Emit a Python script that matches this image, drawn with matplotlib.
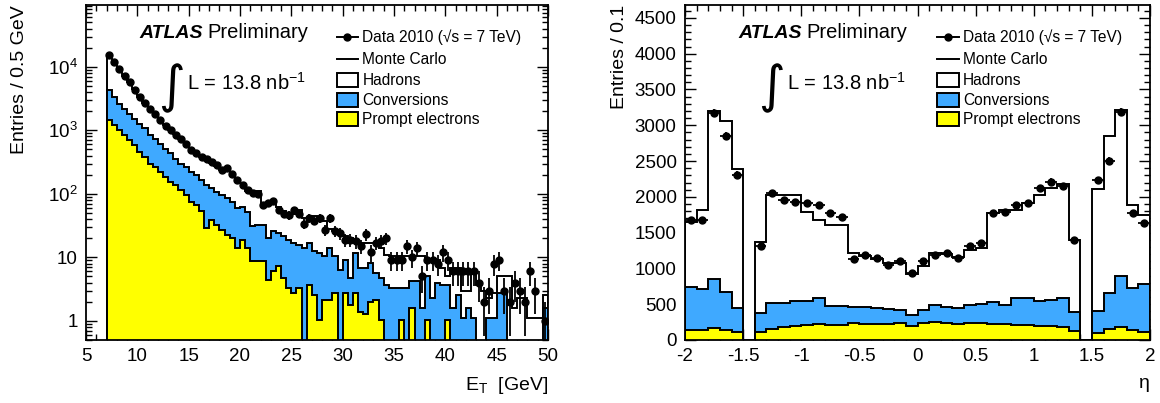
#!/usr/bin/env python
"""Electron candidate E_T and eta distributions: data vs stacked MC (ATLAS-style)."""
import numpy as np
import matplotlib
matplotlib.use("Agg")
import matplotlib.pyplot as plt
from matplotlib.patches import Rectangle
from matplotlib.lines import Line2D
from matplotlib.ticker import MultipleLocator, FixedLocator, FixedFormatter, LogLocator, NullFormatter

plt.rcParams['font.family'] = ['Liberation Sans', 'DejaVu Sans']
plt.rcParams['mathtext.fontset'] = 'custom'
plt.rcParams['mathtext.rm'] = 'Liberation Sans'
plt.rcParams['mathtext.it'] = 'Liberation Sans:italic'
plt.rcParams['mathtext.bf'] = 'Liberation Sans:bold'
plt.rcParams['axes.unicode_minus'] = False

BLUE = '#3fa9ff'
YELLOW = '#ffff00'

# ---- E_T: 0.5 GeV bins, 7..50 GeV
ET_LO, ET_W = 7.0, 0.5
et_data = [15400, 11980, 9300, 7230, 5820, 4360, 3380, 2720, 2190, 1830,
           1475, 1190, 1027, 857, 743, 620, 499, 432, 387, 348,
           312, 280, 234, 251, 202, 163, 138, 114, 102, 101,
           67, 71, 76, 56, 49, 46, 55, 49, 34, 41,
           38, 41, 27, 41, 26, 24, 19, 19, 18, 15,
           23, 12, 17, 18, 20, 9, 9, 9, 15, 10,
           14, 5, 9, 9, 8, 12, 9, 6, 6, 6,
           6, 6, 4, 2, 3, 8, 9, 3, 2, 4,
           3, 2, 6, 3, 0, 1]
# stack levels: hadrons+conversions+prompt, conversions+prompt, prompt
et_mc_total = [15000, 11800, 9200, 7200, 5800, 4400, 3400, 2700, 2200, 1820,
               1480, 1200, 1030, 860, 740, 620, 505, 435, 385, 345,
               310, 275, 240, 235, 200, 160, 146, 109, 109, 109,
               71, 71, 79, 63, 53, 49, 49, 55, 41, 38,
               45, 38, 38, 28, 26, 24, 22, 20, 18, 17,
               17, 17, 17, 14, 11, 10.5, 10.5, 10.5, 10.5, 10.5,
               10.5, 10.5, 9, 9, 9, 6.8, 5, 6.8, 6.8, 3,
               3, 5.5, 3.7, 3, 2.3, 2.7, 5, 5, 5, 1.6,
               2.3, 2.3, 1.1, 1.1, 1.1, 2.6]
et_conv_stack = [4250, 3350, 2630, 2190, 1830, 1530, 1280, 1070, 835, 740,
                 620, 515, 432, 360, 300, 267, 223, 197, 165, 138,
                 122, 108, 96, 85, 75, 59, 61, 52, 31, 32,
                 32, 20, 26, 24, 21.6, 18.6, 16.7, 15.5, 14, 16.7,
                 12.5, 11.7, 10.5, 14, 10.5, 6.4, 9.2, 4.7, 11.7, 6.8,
                 6.8, 8.1, 5.6, 4.7, 3.7, 3.3, 3.3, 3.3, 3.3, 4.2,
                 4.2, 1.6, 5, 2.3, 4, 3.7, 3.7, 1.6, 2.6, 1.1,
                 1.6, 1.1, 0, 0, 1.1, 1.1, 2.7, 2.7, 0, 0,
                 0, 0, 0, 0, 0, 1.6]
et_prompt = [1440, 1200, 1000, 835, 695, 583, 457, 381, 300, 267,
             223, 186, 155, 138, 115, 96, 75, 66, 53, 29,
             39, 32, 27, 22.6, 20, 14, 18.7, 14, 8.7, 8.7,
             8.7, 4.4, 6.1, 7.3, 4.7, 3.3, 2.7, 3.3, 0, 3.7,
             2.6, 1.04, 2.1, 2.1, 2.7, 0, 2.7, 1.8, 2.7, 1.4,
             1.3, 2.0, 2.1, 1.04, 0, 0, 0, 1.04, 0, 1.6,
             0, 0, 1.04, 0, 0, 0, 1.04, 0, 0, 0,
             0, 0, 0, 0, 0, 0, 0, 0, 0, 0,
             0, 0, 0, 0, 0, 0]

# ---- eta: 0.1 bins, -2..2 (crack bins empty)
ETA_LO, ETA_W = -2.0, 0.1
eta_data = [1676, 1676, 3167, 2854, 2309, 0, 1318, 2049, 1956, 1932,
            1909, 1886, 1770, 1714, 1132, 1188, 1141, 1048, 1104, 941,
            1104, 1188, 1220, 1150, 1318, 1351, 1770, 1793, 1886, 1918,
            2119, 2212, 2151, 1397, 0, 2235, 2500, 3190, 1779, 1630]
eta_mc_total = [1650, 1816, 3199, 3064, 2384, 0, 1365, 2026, 2026, 2026,
                1793, 1676, 1607, 1607, 1211, 1173, 1130, 1080, 1080, 918,
                1034, 1220, 1200, 1164, 1257, 1281, 1770, 1816, 1816, 1909,
                2026, 2119, 2179, 1397, 0, 2105, 2850, 3213, 1886, 1746]
eta_conv_stack = [736, 708, 857, 675, 442, 0, 373, 513, 514, 541,
                  545, 582, 479, 480, 465, 457, 442, 433, 419, 349,
                  419, 489, 465, 442, 489, 503, 527, 489, 591, 582,
                  545, 555, 591, 396, 0, 405, 652, 894, 722, 782]
eta_prompt = [140, 140, 163, 140, 116, 0, 116, 154, 186, 200,
              210, 224, 205, 205, 233, 224, 224, 224, 233, 196,
              233, 247, 233, 224, 240, 233, 224, 220, 210, 210,
              200, 200, 186, 130, 0, 102, 149, 177, 140, 116]

legend_labels = ["Data 2010 (√s = 7 TeV)", "Monte Carlo", "Hadrons",
                 "Conversions", "Prompt electrons"]


def draw_stack(ax, lo, w, total, conv, prompt, floor):
    edges = lo + w * np.arange(len(total) + 1)
    for vals, fc in ((total, 'white'), (conv, BLUE), (prompt, YELLOW)):
        v = np.asarray(vals, float)
        v = np.where(v > 0, v, floor)
        ax.stairs(v, edges, baseline=floor, fill=True, facecolor=fc,
                  edgecolor='black', linewidth=1.4, zorder=2)


def draw_data(ax, lo, w, data):
    d = np.asarray(data, float)
    c = lo + w * (np.arange(len(d)) + 0.5)
    m = d > 0
    err = np.sqrt(d[m])
    low = np.minimum(err, d[m] - 1e-3)
    ax.errorbar(c[m], d[m], yerr=[low, err], xerr=w / 2, fmt='o', color='black',
                ms=5, elinewidth=1.3, capsize=0, zorder=5)


def decorate(ax):
    for s in ax.spines.values():
        s.set_linewidth(1.3)
    ax.tick_params(which='both', direction='in', top=True, right=True,
                   labelsize=13.5, width=1.0, pad=6)
    ax.tick_params(which='major', length=8)
    ax.tick_params(which='minor', length=4)
    ax.text(0.115, 0.902, "ATLAS", transform=ax.transAxes, fontsize=14,
            fontweight='bold', fontstyle='italic', va='baseline')
    ax.text(0.262, 0.902, "Preliminary", transform=ax.transAxes, fontsize=14.5,
            va='baseline')
    ax.text(0.185, 0.752, "∫", transform=ax.transAxes, fontsize=37,
            family='DejaVu Sans', ha='center', va='center')
    ax.text(0.219, 0.748, "L = 13.8 nb$^{-1}$", transform=ax.transAxes,
            fontsize=14.5, va='baseline')
    # legend, drawn by hand in axes fractions
    rows = [0.9045, 0.8388, 0.776, 0.7164, 0.6597]
    x0, x1, xt, bh = 0.543, 0.589, 0.598, 0.042
    tr = ax.transAxes
    ax.add_line(Line2D([x0, x1], [rows[0]] * 2, color='black', lw=1.4, transform=tr))
    ax.plot([(x0 + x1) / 2], [rows[0]], 'o', color='black', ms=5, transform=tr)
    ax.add_line(Line2D([x0, x1], [rows[1]] * 2, color='black', lw=1.4, transform=tr))
    for y, fc in zip(rows[2:], ('white', BLUE, YELLOW)):
        ax.add_patch(Rectangle((x0, y - bh / 2), x1 - x0, bh, facecolor=fc,
                               edgecolor='black', lw=1.4, transform=tr, zorder=6))
    for y, lab in zip(rows, legend_labels):
        ax.text(xt, y, lab, transform=tr, fontsize=11.2, va='center')


fig = plt.figure(figsize=(11.6, 4.03), dpi=100)
W, H = 1160.0, 403.0
ax1 = fig.add_axes([86 / W, 63 / H, 462 / W, 335 / H])
ax2 = fig.add_axes([685 / W, 63 / H, 465 / W, 335 / H])

# left: E_T, log scale
ax1.set_yscale('log')
draw_stack(ax1, ET_LO, ET_W, et_mc_total, et_conv_stack, et_prompt, 1e-3)
draw_data(ax1, ET_LO, ET_W, et_data)
ax1.set_xlim(5, 50)
ax1.set_ylim(0.5, 9.4e4)
ax1.xaxis.set_major_locator(MultipleLocator(5))
ax1.xaxis.set_minor_locator(MultipleLocator(1))
ax1.yaxis.set_major_locator(FixedLocator([1, 10, 100, 1000, 10000]))
ax1.yaxis.set_major_formatter(FixedFormatter(["1", "10", "10$^{2}$", "10$^{3}$", "10$^{4}$"]))
ax1.yaxis.set_minor_locator(LogLocator(base=10, subs=np.arange(2, 10)))
ax1.yaxis.set_minor_formatter(NullFormatter())
ax1.set_ylabel("Entries / 0.5 GeV", fontsize=14, loc='top')
ax1.yaxis.set_label_coords(-0.125, 1.0)
ax1.set_xlabel("E$_\\mathrm{T}$  [GeV]", fontsize=14, loc='right')
ax1.xaxis.set_label_coords(1.0, -0.105)
decorate(ax1)

# right: eta, linear scale
draw_stack(ax2, ETA_LO, ETA_W, eta_mc_total, eta_conv_stack, eta_prompt, 0.0)
draw_data(ax2, ETA_LO, ETA_W, eta_data)
ax2.set_xlim(-2, 2)
ax2.set_ylim(0, 4680)
ax2.xaxis.set_minor_locator(MultipleLocator(0.1))
ax2.yaxis.set_major_locator(MultipleLocator(500))
ax2.yaxis.set_minor_locator(MultipleLocator(100))
ax2.set_xticks([-2, -1.5, -1, -0.5, 0, 0.5, 1, 1.5, 2],
               ["-2", "-1.5", "-1", "-0.5", "0", "0.5", "1", "1.5", "2"])
ax2.set_ylabel("Entries / 0.1", fontsize=14, loc='top')
ax2.yaxis.set_label_coords(-0.122, 1.0)
ax2.set_xlabel("η", fontsize=14, loc='right')
ax2.xaxis.set_label_coords(1.0, -0.105)
decorate(ax2)

fig.savefig("out.png", dpi=100)
